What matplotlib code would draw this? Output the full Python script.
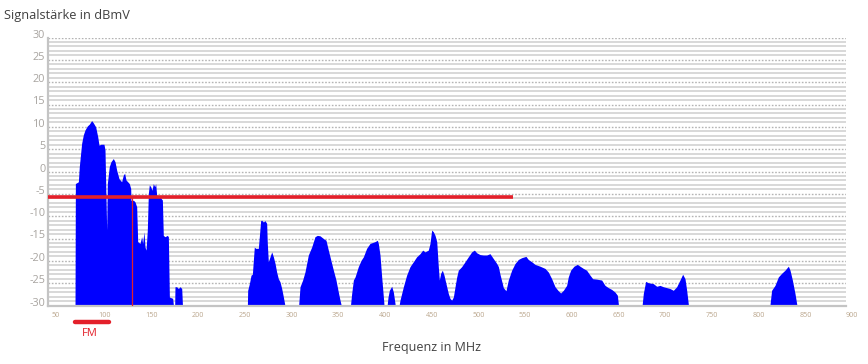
import matplotlib
matplotlib.use("Agg")
import matplotlib.pyplot as plt
import matplotlib.transforms as mtransforms

# ---- data (MHz, dBmV) ----
blk1_f = [74.9, 75.3, 78.5, 79.5, 82.0, 83.8, 85.6, 88.1, 90.2, 92.7, 94.5, 97.0, 99.2, 100.6, 102.7,
          105.9, 107.0, 108.1, 108.8, 109.5, 111.6, 113.4, 115.9, 117.7, 119.5, 122.0, 124.8, 126.6,
          128.0, 129.5, 131.3, 133.0, 134.5, 134.8, 135.6, 137.3, 139.1, 140.9, 142.0, 144.5, 146.2,
          147.3, 148.7, 149.8, 150.9, 152.3, 153.4, 154.4, 155.9, 157.3, 158.7, 160.2, 161.2, 162.3,
          165.9, 168.4, 169.4, 171.2, 173.7, 174.8, 175.9, 179.4, 180.8]
blk1_v = [-31, -2.7, -2.3, 1.1, 6.3, 8.2, 9.3, 10.2, 10.6, 11.4, 10.9, 10.0, 7.8, 5.9, 6.1,
          6.1, 4.8, -6.4, -13.1, -2.7, 1.1, 2.2, 2.9, 2.2, 0.3, -1.6, -2.3, -0.8,
          -0.4, -1.9, -2.3, -2.7, -3.8, -6.4, -6.6, -6.4, -6.8, -7.9, -15.7, -16.1, -14.6,
          -16.1, -13.5, -16.9, -17.6, -13.1, -4.9, -3.0, -3.4, -4.2, -2.7, -3.4, -2.7, -5.3,
          -5.7, -6.4, -14.3, -14.6, -14.3, -14.6, -28.1, -28.4, -31]
blk1b_f = [181.5, 181.9, 183.7, 185.5, 187.3, 189.1, 190.1]
blk1b_v = [-31, -25.8, -25.8, -26.2, -25.8, -26.2, -31]

blk2_f = [259.3, 259.7, 261.5, 263.3, 264.7, 266.8, 268.2, 271.1, 273.6, 274.7, 276.5, 278.2, 280.0,
          280.7, 281.8, 283.6, 285.4, 287.2, 289.0, 290.7, 292.5, 294.3, 296.1, 297.9, 300.4]
blk2_v = [-31, -26.6, -25.1, -23.2, -23.0, -16.9, -17.2, -17.2, -11.0, -10.9, -11.3, -11.0, -11.6,
          -16.1, -20.2, -19.1, -18.0, -19.1, -20.6, -22.5, -24.0, -24.7, -26.2, -28.1, -31]

blk3_f = [313.9, 315.7, 318.5, 321.0, 324.6, 328.2, 331.7, 334.2, 337.1, 340.7, 343.5, 346.0, 347.8,
          349.6, 351.4, 354.2, 356.7, 358.5, 361.0]
blk3_v = [-31, -25.8, -24.3, -22.5, -18.7, -16.9, -14.6, -14.3, -14.4, -15.0, -15.4, -17.6, -19.1,
          -20.6, -22.1, -24.3, -27.0, -28.8, -31]

blk4_f = [369.2, 371.0, 372.8, 374.6, 378.1, 381.0, 383.5, 387.0, 390.6, 396.0, 398.5, 399.5, 401.3,
          403.1, 404.9, 406.0]
blk4_v = [-31, -27.3, -24.3, -23.6, -21.3, -19.9, -19.1, -17.2, -16.1, -15.7, -15.4, -16.1, -18.7,
          -23.6, -28.1, -31]

blk4b_f = [408.4, 409.9, 411.3, 413.8, 415.6, 417.4, 418.1]
blk4b_v = [-31, -28.1, -26.6, -25.7, -27.0, -29.6, -31]

blk5_f = [420.9, 422.7, 426.3, 429.8, 433.4, 437.0, 440.5, 444.1, 447.0, 449.5, 453.0, 454.8, 456.6,
          458.4, 460.2, 462.0, 463.7, 464.8, 466.2, 468.0, 469.8, 471.9, 474.4, 476.2, 478.0, 479.8,
          481.6, 483.4, 485.1, 488.7, 492.3, 495.8, 499.4, 502.3, 504.8, 508.3, 511.9, 515.5, 519.0,
          522.6, 526.2, 528.0, 529.7, 533.3, 536.1, 538.6, 542.2, 545.8, 549.3, 552.9, 557.5, 560.0,
          563.6, 567.2, 572.5, 577.9, 581.4, 585.0, 588.6, 592.1, 594.6, 597.5, 601.0, 602.8, 605.3,
          608.9, 612.5, 615.3, 618.9, 622.4, 626.0, 628.9, 633.2, 638.5, 642.1, 645.6, 649.2, 652.8,
          655.3, 657.1]
blk5_v = [-31, -28.8, -25.8, -23.2, -21.3, -20.2, -19.1, -18.4, -17.6, -18.0, -17.6, -16.1, -13.1,
          -13.5, -14.3, -15.7, -21.3, -24.3, -22.8, -22.1, -23.2, -25.1, -27.3, -28.4, -28.8, -28.1,
          -25.8, -23.6, -22.1, -21.3, -20.2, -19.1, -18.0, -17.6, -18.2, -18.6, -18.7, -18.7, -18.4,
          -19.5, -20.6, -21.3, -23.0, -26.0, -26.7, -24.3, -22.1, -20.6, -19.7, -19.3, -19.0, -19.7,
          -20.2, -20.8, -21.2, -21.7, -22.5, -24.0, -25.8, -26.7, -27.2, -26.6, -25.5, -23.6, -22.1,
          -21.2, -20.8, -21.2, -21.7, -22.1, -23.2, -24.0, -24.1, -24.3, -25.5, -26.0, -26.4, -27.0,
          -27.7, -31]

blk6_f = [681.3, 683.1, 685.6, 688.5, 693.8, 697.4, 700.9, 704.5, 708.1, 711.6, 715.2, 718.8, 722.3,
          725.2, 727.7, 729.5, 732.0]
blk6_v = [-31, -27.3, -24.6, -24.9, -25.1, -25.7, -25.5, -25.8, -26.0, -26.2, -26.6, -25.8, -24.3,
          -23.0, -24.0, -26.6, -31]

blk7_f = [818.0, 820.4, 824.0, 827.6, 831.1, 834.7, 838.3, 840.1, 842.6, 845.4, 848.3]
blk7_v = [-31, -26.6, -25.5, -23.6, -22.8, -22.1, -21.2, -22.1, -24.3, -27.3, -31]

blocks = [(blk1_f, blk1_v), (blk1b_f, blk1b_v), (blk2_f, blk2_v), (blk3_f, blk3_v),
          (blk4_f, blk4_v), (blk4b_f, blk4b_v), (blk5_f, blk5_v), (blk6_f, blk6_v),
          (blk7_f, blk7_v)]

threshold_level = -5.7
threshold_end = 543.6
marker_freq = 135.6
fm_band = (74.9, 111.3)

x_ticks = list(range(50, 901, 50))
y_ticks = list(range(-30, 31, 5))

title = "Signalstärke in dBmV"
xlabel = "Frequenz in MHz"
fm_label = "FM"

# ---- figure ----
plt.rcParams['font.family'] = ['Open Sans', 'DejaVu Sans']
W, H = 868, 364
fig = plt.figure(figsize=(W / 100, H / 100), dpi=100)
ax = fig.add_axes([48 / W, 1 - 305.5 / H, 798 / W, 268 / H])
ax.set_xlim(46, 900)
ax.set_ylim(-30, 30)

# striped background
for y in range(-29, 30):
    if y % 5 != 0:
        ax.axhline(y, color='#d6d6d6', lw=1.3, zorder=0)
for y in range(-25, 31, 5):
    ax.axhline(y, color='#b4b4b4', lw=1.0, linestyle=(0, (1.2, 1.2)), zorder=0)

for f, v in blocks:
    ax.fill_between(f, v, -31, color='#0000ff', lw=0, zorder=2)

ax.plot([46, threshold_end], [threshold_level, threshold_level], color='#e3202a', lw=2.6,
        solid_capstyle='butt', zorder=3)
ax.plot([marker_freq, marker_freq], [threshold_level, -30], color='#e3202a', lw=0.9, zorder=3)

for s in ['top', 'right']:
    ax.spines[s].set_visible(False)
for s in ['left', 'bottom']:
    ax.spines[s].set_color('#c4c4c4')
    ax.spines[s].set_linewidth(1.6)

ax.set_xticks(x_ticks)
ax.set_xticklabels([str(t) for t in x_ticks], fontsize=5.2, color='#bba78e')
for lab in ax.get_xticklabels():
    lab.set_horizontalalignment('left')
ax.set_yticks(y_ticks)
ax.set_yticklabels([str(t) for t in y_ticks], fontsize=7.8, color='#a8a4a0')
ax.tick_params(axis='both', length=0)
ax.tick_params(axis='x', pad=5)
ax.tick_params(axis='y', pad=2)
off = mtransforms.ScaledTranslation(0, 4 / 100, fig.dpi_scale_trans)
for lab in ax.get_yticklabels():
    lab.set_transform(lab.get_transform() + off)

fig.text(4 / W, 1 - 16 / H, title, fontsize=9.2, color='#404040', va='center', ha='left')
fig.text(432 / W, 1 - 347 / H, xlabel, fontsize=9.0, color='#404040', va='center', ha='center')

ax.plot(list(fm_band), [-33.7, -33.7], color='#e3202a', lw=3.2, solid_capstyle='round',
        clip_on=False, zorder=3)
ax.text(91, -36.3, fm_label, fontsize=8, color='#e3202a', ha='center', va='center', clip_on=False)

fig.savefig('out.png', dpi=100)
